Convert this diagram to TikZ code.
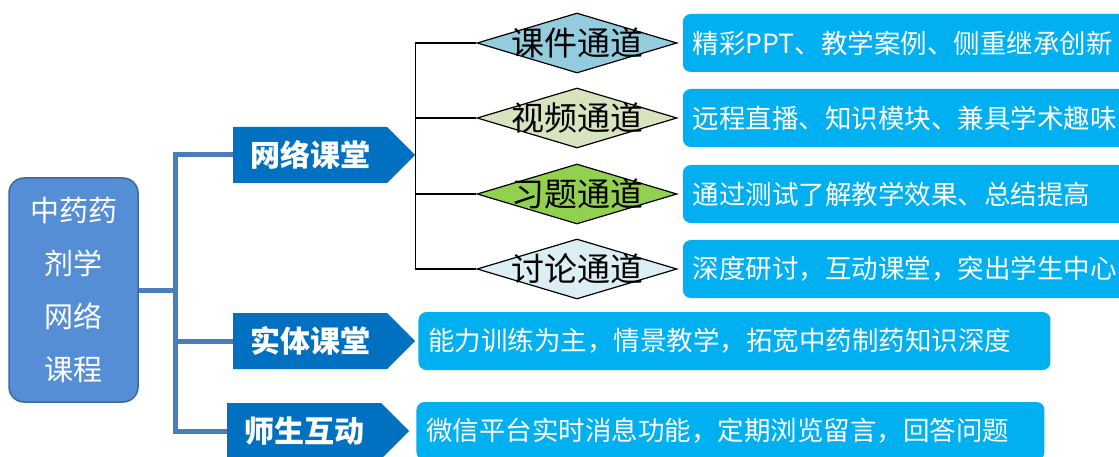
\documentclass[tikz,border=0pt]{standalone}
\usepackage{fontspec}
\setmainfont{Noto Sans CJK SC}
\usetikzlibrary{positioning,shapes.geometric,shapes.symbols}
\definecolor{mainblue}{HTML}{558ED5}
\definecolor{mainedge}{HTML}{3C6A9E}
\definecolor{trunkblue}{HTML}{4A7EBB}
\definecolor{kindblue}{HTML}{0070C0}
\definecolor{noteblue}{HTML}{00B0F0}
\definecolor{kjfill}{HTML}{93CDDD}
\definecolor{spfill}{HTML}{D7E4BD}
\definecolor{xtfill}{HTML}{92D050}
\definecolor{tlfill}{HTML}{DBEEF4}
\tikzset{
  trunk/.style={line width=5pt,draw=trunkblue},
  twig/.style={line width=1.3pt,draw=black},
  kind/.style={signal,signal to=east,signal pointer angle=90,fill=kindblue,
    text=white,font=\bfseries\fontsize{30}{32}\selectfont,
    minimum width=182pt,minimum height=56pt,inner sep=0pt},
  chan/.style={diamond,draw=black,line width=1.2pt,minimum width=200pt,
    minimum height=60pt,inner sep=0pt},
  chantext/.style={font=\fontsize{33}{36}\selectfont},
  note/.style={rectangle,rounded corners=8pt,fill=noteblue,text=white,
    font=\fontsize{26.5}{28}\selectfont,minimum height=58pt,inner xsep=10pt,
    align=left}
}

\begin{document}
\begin{tikzpicture}[x=1pt,y=-1pt]
  \useasboundingbox (0,0) rectangle (1119,457);
  % course box
  \node [rectangle,rounded corners=15pt,fill=mainblue,draw=mainedge,line width=1.5pt,
    minimum width=129pt,minimum height=224pt,text=white,align=center,
    font=\fontsize{29}{53}\selectfont] (zx) at (73.5,290) {中药药\\剂学\\网络\\课程};
  % three ways
  \node [kind] (wl) at (310,155) {网络课堂};
  \node [kind] (sj) at (310,341) {实体课堂};
  \node [kind] (st) at (304,431) {师生互动};
  \coordinate (hub) at (175,290);
  \draw [trunk] (zx.east) -- (hub);
  \draw [trunk] (wl.west) -| (hub) |- (st.west);
  \draw [trunk] (hub) |- (sj.west);
  % channels
  \node [chan,fill=kjfill,label={[chantext]center:课件通道}] (kj) at (577,43) {};
  \node [chan,fill=spfill,label={[chantext]center:视频通道}] (sp) at (577,118) {};
  \node [chan,fill=xtfill,label={[chantext]center:习题通道}] (xt) at (577,194) {};
  \node [chan,fill=tlfill,label={[chantext]center:讨论通道}] (tl) at (577,269) {};
  \draw [twig] (kj.west) -| (wl.east) |- (tl.west);
  \draw [twig] (sp.west) -| (wl.east);
  \draw [twig] (xt.west) -| (wl.east);
  % notes
  \node [note,text width=430pt,right=5pt of kj] (kjn) {精彩PPT、教学案例、侧重继承创新};
  \node [note,text width=430pt,right=5pt of sp] (spn) {远程直播、知识模块、兼具学术趣味};
  \node [note,text width=430pt,right=5pt of xt] (xtn) {通过测试了解教学效果、总结提高};
  \node [note,text width=430pt,right=5pt of tl] (tln) {深度研讨，互动课堂，突出学生中心};
  \node [note,text width=612pt,right=3pt of sj] (sjn) {能力训练为主，情景教学，拓宽中药制药知识深度};
  \node [note,text width=608pt,right=7pt of st] (stn) {微信平台实时消息功能，定期浏览留言，回答问题};
\end{tikzpicture}
\end{document}
